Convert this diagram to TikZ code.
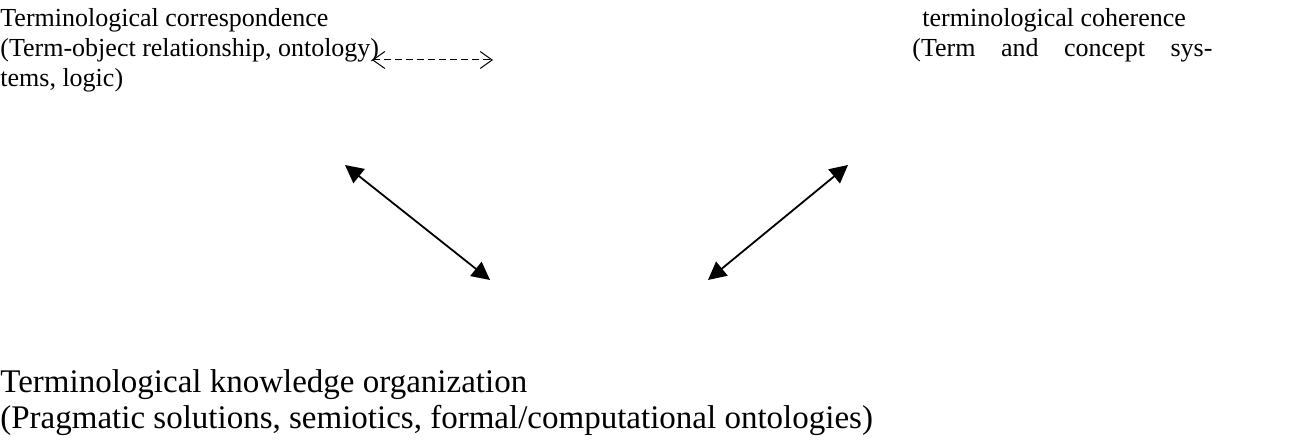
\documentclass[tikz,border=0pt]{standalone}
\usepackage{fontspec}
\setmainfont{Liberation Serif}
\usetikzlibrary{arrows.meta}

\begin{document}
\begin{tikzpicture}[
    x=0.5pt, y=-0.5pt,
    txt/.style={inner sep=0pt, align=left, font=\fontsize{13}{15}\selectfont},
    bigtxt/.style={inner sep=0pt, align=left, font=\fontsize{16.5}{18}\selectfont},
    link/.style={{Triangle[length=9pt,width=9pt]}-{Triangle[length=9pt,width=9pt]}, line width=0.9pt},
    dlink/.style={{Straight Barb[length=6pt,width=8.5pt]}-{Straight Barb[length=6pt,width=8.5pt]}, dash pattern=on 3.5pt off 2pt, line width=0.5pt}
]
\useasboundingbox (0,0) rectangle (1307,443);
\node[txt, anchor=base west] (corresp) at (0,27) {Terminological correspondence};
\node[txt, anchor=base west] (correspdef) at (0,57) {(Term-object relationship, ontology)};
\node[txt, anchor=base west] (tems) at (0,87) {tems, logic)};
\node[txt, anchor=base west] (coher) at (922,27) {terminological coherence};
\node[txt, anchor=base west, text width=150pt] (coherdef) at (912,57) {(Term\hfill and\hfill concept\hfill sys-};
\node[bigtxt, anchor=base west] (knoworg) at (0,393) {Terminological knowledge organization};
\node[bigtxt, anchor=base west] (knoworgdef) at (0,428) {(Pragmatic solutions, semiotics, formal/computational ontologies)};
% arrow ends
\coordinate (dl) at (372,60);
\coordinate (dr) at (493,60);
\coordinate (lt) at (345,165);
\coordinate (lb) at (490,280);
\coordinate (rt) at (848,165);
\coordinate (rb) at (708,280);
\draw[dlink] (dl) -- (dr);
\draw[link] (lt) -- (lb);
\draw[link] (rt) -- (rb);
\end{tikzpicture}
\end{document}
